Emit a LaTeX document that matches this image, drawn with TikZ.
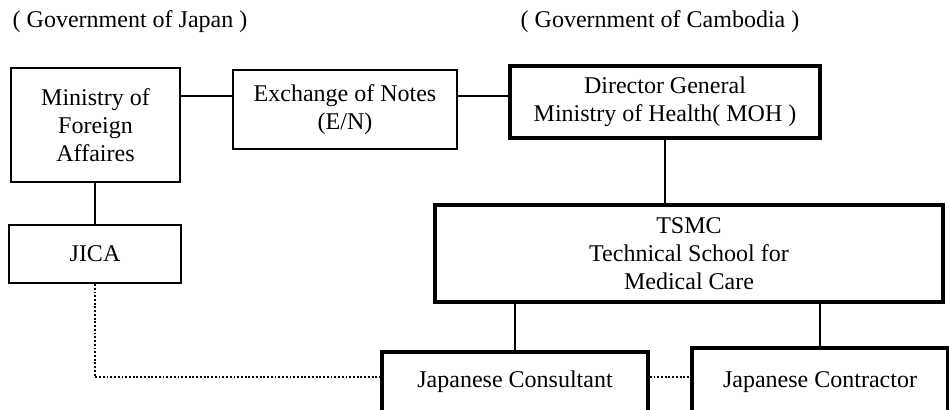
\documentclass[tikz,border=0pt]{standalone}
\usepackage{fontspec}
\setmainfont{Liberation Serif}
\begin{document}
\begin{tikzpicture}[x=0.75pt,y=-0.75pt,
  every node/.style={font=\fontsize{18}{21}\selectfont, align=center, inner sep=0pt},
  thinbox/.style={draw, line width=1.6pt, rectangle},
  thickbox/.style={draw, line width=2.7pt, rectangle},
  link/.style={line width=1pt},
  dotlink/.style={line width=2pt, dash pattern=on 1.4pt off 1.4pt}]
\useasboundingbox (0,0) rectangle (949,410);
\begin{scope}
\clip (0,0) rectangle (949,410);
\node (gj) at (130,22) {( Government of Japan )};
\node (gc) at (660,22) {( Government of Cambodia )};
\node[thinbox, minimum width=169*0.75pt, minimum height=114*0.75pt] (mofa) at (95.5,125) {Ministry of\\Foreign\\Affaires};
\node[thinbox, minimum width=224*0.75pt, minimum height=79*0.75pt] (eon) at (345,109.5) {Exchange of Notes\\(E/N)};
\node[thickbox, minimum width=310*0.75pt, minimum height=72*0.75pt] (dg) at (665,102) {Director General\\Ministry of Health( MOH )};
\node[thinbox, minimum width=172*0.75pt, minimum height=58*0.75pt] (jica) at (95,254) {JICA};
\node[thickbox, minimum width=508*0.75pt, minimum height=97*0.75pt] (tsmc) at (689,253.5) {TSMC\\Technical School for\\Medical Care};
\node[thickbox, minimum width=266*0.75pt, minimum height=60*0.75pt] (cons) at (515,382) {Japanese Consultant};
\node[thickbox, minimum width=256*0.75pt, minimum height=68*0.75pt] (cont) at (820,382) {Japanese Contractor};
\coordinate (r1) at (0,96);
\coordinate (r2) at (0,377);
\draw[link] (mofa.east |- r1) -- (eon.west |- r1);
\draw[link] (eon.east |- r1) -- (dg.west |- r1);
\draw[link] (dg.south) -- (dg.south |- tsmc.north);
\draw[link] (jica.north |- mofa.south) -- (jica.north);
\draw[link] (cons.north |- tsmc.south) -- (cons.north);
\draw[link] (cont.north |- tsmc.south) -- (cont.north);
\draw[dotlink] (jica.south) -- (jica.south |- r2) -- (cons.west |- r2);
\draw[dotlink] (cons.east |- r2) -- (cont.west |- r2);
\end{scope}
\end{tikzpicture}
\end{document}
